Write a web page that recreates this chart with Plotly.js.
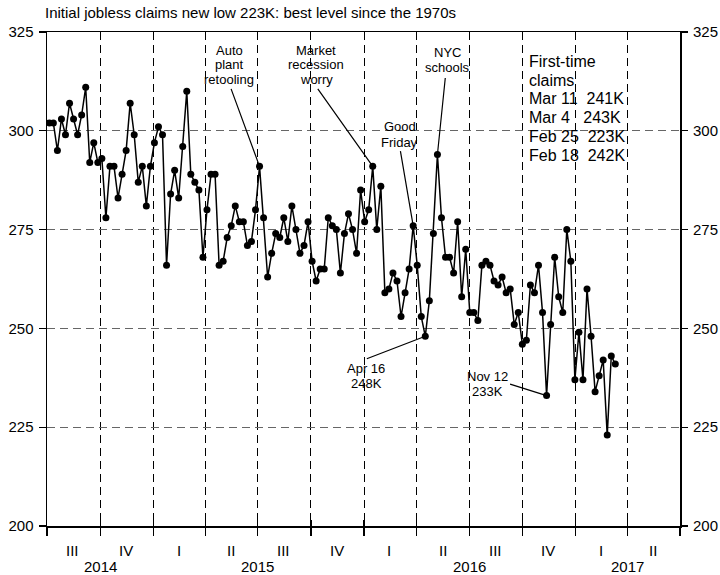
<!DOCTYPE html>
<html>
<head>
<meta charset="utf-8">
<script src="https://cdn.plot.ly/plotly-3.0.1.min.js"></script>
<style>
  html, body { margin: 0; padding: 0; background: #fff; }
  #chart { width: 720px; height: 575px; }
</style>
</head>
<body>
<div id="chart"></div>
<script>
// ---------------- DATA ----------------
// First week shown (week ending Saturday) – one value per week after it
const firstWeekEnding = '2014-07-05';
// Initial jobless claims, thousands
const claims = [
  302, 302, 295, 303, 299, 307, 303, 299, 304, 311,
  292, 297, 292, 293, 278, 291, 291, 283, 289, 295,
  307, 299, 287, 291, 281, 291, 297, 301, 299, 266,
  284, 290, 283, 296, 310, 289, 287, 285, 268, 280,
  289, 289, 266, 267, 273, 276, 281, 277, 277, 271,
  272, 280, 291, 278, 263, 269, 274, 273, 278, 272,
  281, 275, 269, 271, 277, 267, 262, 265, 265, 278,
  276, 275, 264, 274, 279, 275, 269, 285, 277, 280,
  291, 275, 286, 259, 260, 264, 262, 253, 259, 265,
  276, 266, 253, 248, 257, 274, 294, 278, 268, 268,
  264, 277, 258, 270, 254, 254, 252, 266, 267, 266,
  262, 261, 263, 259, 260, 251, 254, 246, 247, 261,
  259, 266, 254, 233, 251, 268, 258, 254, 275, 267,
  237, 249, 237, 260, 248, 234, 238, 242, 223, 243, 241
];
const quarterTicks = ['2014-07-01','2014-10-01','2015-01-01','2015-04-01','2015-07-01','2015-10-01',
                      '2016-01-01','2016-04-01','2016-07-01','2016-10-01','2017-01-01','2017-04-01','2017-07-01'];
const quarterMids = ['2014-08-15','2014-11-15','2015-02-14','2015-05-16','2015-08-15','2015-11-15',
                     '2016-02-14','2016-05-16','2016-08-15','2016-11-15','2017-02-14','2017-05-16'];
const quarterLabels = ['III','IV','I','II','III','IV','I','II','III','IV','I','II'];
const yearPos = ['2014-10-01','2015-07-01','2016-07-01','2017-04-01'];
const yearLabels = ['2014','2015','2016','2017'];
const yTicks = [200, 225, 250, 275, 300, 325];
const titleText = 'Initial jobless claims new low 223K: best level since the 1970s';
const boxLines = ['First-time', 'claims', 'Mar 11  241K', 'Mar 4   243K', 'Feb 25  223K', 'Feb 18  242K'];

// Weekly dates (calendar of week endings)
const weeks = [];
{
  const d0 = new Date(firstWeekEnding + 'T00:00:00Z');
  for (let i = 0; i < claims.length; i++) {
    const d = new Date(d0.getTime() + i * 7 * 86400000);
    weeks.push(d.toISOString().slice(0, 10));
  }
}

// ---------------- LAYOUT ----------------
const M = { l: 47, r: 40, t: 32, b: 49 };
const W = 720, H = 575;
const PW = W - M.l - M.r, PH = H - M.t - M.b;
const px = x => (x - M.l) / PW;
const py = y => (H - M.b - y) / PH;
const FONT = 'Liberation Sans, Arial, Helvetica, sans-serif';

const annotations = [];
function textLine(t, x, y, size, anchor) {
  annotations.push({ xref: 'paper', yref: 'paper', x: px(x), y: py(y), text: t.replace(/ /g, '\u00a0'),
    showarrow: false, xanchor: anchor || 'center', yanchor: 'middle',
    font: { family: FONT, size: size, color: '#000' } });
}
function pointer(i, ax, ay) {
  annotations.push({ xref: 'x', yref: 'y', x: weeks[i], y: claims[i], text: '', showarrow: true,
    arrowhead: 0, arrowwidth: 1.2, arrowcolor: '#000', ax: ax, ay: ay, standoff: 0 });
}

// Callouts
textLine('Auto', 229, 50, 13); textLine('plant', 229, 64.5, 13); textLine('retooling', 229, 79.5, 13);
pointer(52, -29, -79);
textLine('Market', 316, 50, 13); textLine('recession', 316, 64.5, 13); textLine('worry', 316, 79.5, 13);
pointer(80, -56, -79);
textLine('Good', 400, 127, 13); textLine('Friday', 400, 143, 13);
pointer(90, -13, -76);
textLine('NYC', 447, 52, 13); textLine('schools', 447, 67.5, 13);
pointer(96, 8, -78);
textLine('Apr 16', 366, 368, 13); textLine('248K', 366, 383.5, 13);
pointer(93, -60, 23);
textLine('Nov 12', 487, 376, 13); textLine('233K', 487, 391.5, 13);
pointer(123, -38, -12);
boxLines.forEach((t, k) => textLine(t, 527, 61.5 + 18.7 * k, 16, 'left'));

// Quarter and year labels
quarterMids.forEach((d, k) => annotations.push({ xref: 'x', yref: 'paper', x: d, y: py(550), text: quarterLabels[k],
  showarrow: false, xanchor: 'center', yanchor: 'middle', font: { family: FONT, size: 15, color: '#000' } }));
yearPos.forEach((d, k) => annotations.push({ xref: 'x', yref: 'paper', x: d, y: py(566.5), text: yearLabels[k],
  showarrow: false, xanchor: 'center', yanchor: 'middle', font: { family: FONT, size: 15, color: '#000' } }));

const data = [
  { type: 'scatter', mode: 'lines+markers', x: weeks, y: claims, xaxis: 'x', yaxis: 'y',
    line: { color: '#000', width: 1.5 }, marker: { color: '#000', size: 7 }, hoverinfo: 'x+y' },
  // invisible trace to activate the overlay axes (right labels, inner ticks)
  { type: 'scatter', mode: 'markers', x: [weeks[0]], y: [claims[0]], xaxis: 'x2', yaxis: 'y2',
    marker: { opacity: 0 }, hoverinfo: 'skip', showlegend: false }
];

const layout = {
  width: W, height: H, margin: M, showlegend: false,
  paper_bgcolor: '#fff', plot_bgcolor: '#fff',
  font: { family: FONT, size: 15, color: '#000' },
  title: { text: titleText, x: 45 / W, xref: 'container', xanchor: 'left', y: 1 - 13 / H, yref: 'container',
    yanchor: 'middle', font: { family: FONT, size: 15, color: '#000' } },
  xaxis: {
    type: 'date', range: ['2014-07-01', '2017-07-01'], tickmode: 'array', tickvals: quarterTicks,
    ticktext: quarterTicks.map(() => ''), ticks: 'outside', ticklen: 8, tickwidth: 1.2, tickcolor: '#000',
    showgrid: true, gridcolor: '#000', gridwidth: 1, griddash: '8px,5px',
    showline: true, linecolor: '#000', linewidth: 1.5, mirror: true, zeroline: false, fixedrange: true
  },
  xaxis2: {
    type: 'date', overlaying: 'x', matches: 'x', range: ['2014-07-01', '2017-07-01'], tickmode: 'array',
    tickvals: quarterTicks, showticklabels: false, ticks: 'inside', ticklen: 6, tickwidth: 1.2, tickcolor: '#000',
    showgrid: false, showline: false, zeroline: false
  },
  yaxis: {
    range: [200, 325], tickmode: 'array', tickvals: yTicks, ticks: 'outside', ticklen: 7, tickwidth: 1.2,
    tickcolor: '#000', ticklabelstandoff: 2,
    showgrid: true, gridcolor: '#666', gridwidth: 1, griddash: '8px,5px',
    showline: true, linecolor: '#000', linewidth: 1.5, mirror: true, zeroline: false,
    tickfont: { family: FONT, size: 15, color: '#000' }
  },
  yaxis2: {
    range: [200, 325], overlaying: 'y', side: 'right', tickmode: 'array', tickvals: yTicks, ticks: 'outside',
    ticklen: 7, tickwidth: 1.2, tickcolor: '#000', ticklabelstandoff: 2, showgrid: false, showline: false, zeroline: false,
    tickfont: { family: FONT, size: 15, color: '#000' }
  },
  annotations: annotations
};

Plotly.newPlot('chart', data, layout, { displayModeBar: false, staticPlot: true });
</script>
</body>
</html>
